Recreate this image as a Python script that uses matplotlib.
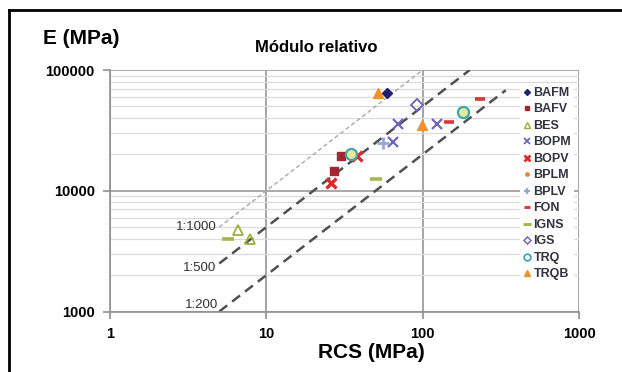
import matplotlib
matplotlib.use('Agg')
import matplotlib.pyplot as plt
from matplotlib.lines import Line2D
from matplotlib.ticker import FixedLocator, FixedFormatter, NullFormatter, LogLocator

plt.rcParams['font.family'] = ['Liberation Sans', 'DejaVu Sans']

# ---- data (RCS in MPa, E in MPa) ----
series_names = ['BAFM', 'BAFV', 'BES', 'BOPM', 'BOPV', 'BPLM', 'BPLV', 'FON', 'IGNS', 'IGS', 'TRQ', 'TRQB']

bafm_rcs = [59];            bafm_e = [64000]
bafv_rcs = [30, 27];        bafv_e = [19500, 14500]
bes_rcs = [6.6, 7.9];       bes_e = [4700, 4000]
bopm_rcs = [70, 124, 65];   bopm_e = [36000, 36000, 25500]
bopv_rcs = [38, 26];        bopv_e = [19500, 11700]
bplm_rcs = [];              bplm_e = []
bplv_rcs = [56];            bplv_e = [25000]
fon_rcs = [148, 233];       fon_e = [37000, 58000]
igns_rcs = [50, 5.7];       igns_e = [12500, 4000]
igs_rcs = [92];             igs_e = [51000]
trq_rcs = [180, 35];        trq_e = [45000, 20000]
trqb_rcs = [52, 99];        trqb_e = [65000, 35000]

ratio_values = [1000, 500, 200]
ratio_labels = ['1:1000', '1:500', '1:200']
ratio_rcs_start = [5, 5, 5]
ratio_rcs_end = [100, 200, 340]

x_ticks = [1, 10, 100, 1000]
x_tick_labels = ['1', '10', '100', '1000']
y_ticks = [1000, 10000, 100000]
y_tick_labels = ['1000', '10000', '100000']

# ---- styles ----
styles = {
    'BAFM': dict(marker='D', color='#1f2070', ms=5, mfc='#1f2070', mew=1),
    'BAFV': dict(marker='s', color='#9e2a30', ms=6, mfc='#9e2a30', mew=1),
    'BES':  dict(marker='^', color='#9cb040', ms=7, mfc='none', mew=1.3),
    'BOPM': dict(marker='x', color='#6e66b8', ms=7, mfc='none', mew=1.6),
    'BOPV': dict(marker='x', color='#e02828', ms=7, mfc='none', mew=2.4),
    'BPLM': dict(marker='o', color='#e0883a', ms=4, mfc='#e0883a', mew=1),
    'BPLV': dict(marker='+', color='#9aa4d8', ms=8, mfc='none', mew=2),
    'FON':  dict(marker='_', color='#d83838', ms=7, mfc='none', mew=2.6),
    'IGNS': dict(marker='_', color='#a2b84c', ms=9, mfc='none', mew=2.6),
    'IGS':  dict(marker='D', color='#6e60b8', ms=6, mfc='none', mew=1.3),
    'TRQ':  dict(marker='o', color='#3aa8b0', ms=8, mfc='#e6e89c', mew=1.6),
    'TRQB': dict(marker='^', color='#f0922a', ms=7, mfc='#f0922a', mew=1),
}
data = {
    'BAFM': (bafm_rcs, bafm_e), 'BAFV': (bafv_rcs, bafv_e), 'BES': (bes_rcs, bes_e),
    'BOPM': (bopm_rcs, bopm_e), 'BOPV': (bopv_rcs, bopv_e), 'BPLM': (bplm_rcs, bplm_e),
    'BPLV': (bplv_rcs, bplv_e), 'FON': (fon_rcs, fon_e), 'IGNS': (igns_rcs, igns_e),
    'IGS': (igs_rcs, igs_e), 'TRQ': (trq_rcs, trq_e), 'TRQB': (trqb_rcs, trqb_e),
}

W, H = 622, 372
fig = plt.figure(figsize=(W / 100, H / 100), dpi=100)
left, right, top, bottom = 110, 579, 70, 311.5
ax = fig.add_axes([left / W, 1 - bottom / H, (right - left) / W, (bottom - top) / H])
ax.set_xscale('log')
ax.set_yscale('log')
ax.set_xlim(1, 1000)
ax.set_ylim(1000, 100000)

# grid
ax.yaxis.set_minor_locator(LogLocator(base=10, subs=range(2, 10)))
ax.yaxis.grid(True, which='minor', color='#dadada', lw=0.9)
ax.yaxis.grid(True, which='major', color='#a8a8a8', lw=1.4)
ax.xaxis.grid(True, which='major', color='#959595', lw=1.2)
ax.xaxis.grid(False, which='minor')
ax.set_axisbelow(True)

for s in ['top', 'right']:
    ax.spines[s].set_visible(False)
for s in ['left', 'bottom']:
    ax.spines[s].set_color('#909090')
    ax.spines[s].set_linewidth(1.2)

ax.xaxis.set_major_locator(FixedLocator(x_ticks))
ax.xaxis.set_major_formatter(FixedFormatter(x_tick_labels))
ax.yaxis.set_major_locator(FixedLocator(y_ticks))
ax.yaxis.set_major_formatter(FixedFormatter(y_tick_labels))
ax.xaxis.set_minor_formatter(NullFormatter())
ax.yaxis.set_minor_formatter(NullFormatter())
ax.tick_params(which='minor', length=0)
ax.tick_params(which='major', length=5, color='#909090', width=1.2, labelsize=10.5, pad=6)
for lab in ax.get_xticklabels() + ax.get_yticklabels():
    lab.set_fontweight('bold')

# ratio lines
ratio_styles = [dict(color='#a8a8a8', lw=1.0, dashes=(3, 2)),
                dict(color='#505050', lw=1.8, dashes=(4, 2.5)),
                dict(color='#505050', lw=1.8, dashes=(4, 2.5))]
label_offsets = [(-2, 0), (-2, -3.5), (-1, 4.5)]
for r, lab, x0, x1, st, off in zip(ratio_values, ratio_labels, ratio_rcs_start, ratio_rcs_end,
                                   ratio_styles, label_offsets):
    ax.plot([x0, x1], [r * x0, r * x1], zorder=2, **st)
    ax.annotate(lab, xy=(x0, r * x0), xytext=off, textcoords='offset points',
                ha='right', va='center', fontsize=9.5, color='#333333')

# points
for name in series_names:
    xs, ys = data[name]
    st = styles[name]
    ax.plot(xs, ys, linestyle='none', marker=st['marker'], color=st['color'],
            ms=st['ms'], mfc=st['mfc'], mec=st['color'], mew=st['mew'], zorder=3)

# legend
handles = []
for name in series_names:
    st = styles[name]
    mfc = 'none' if name == 'TRQ' else st['mfc']
    handles.append(Line2D([], [], linestyle='none', marker=st['marker'], color=st['color'],
                          ms=st['ms'] * 0.6, mfc=mfc, mec=st['color'], mew=max(st['mew'] * 0.8, 1)))
leg = ax.legend(handles, series_names, loc='upper left', bbox_to_anchor=(0.875, 0.94),
                frameon=True, facecolor='white', edgecolor='none', framealpha=1,
                prop=dict(weight='bold', size=9), handlelength=0.7, handletextpad=0.15,
                labelspacing=0.36, borderpad=0.2, borderaxespad=0)
for t in leg.get_texts():
    t.set_color('#333340')

# texts
fig.text(316 / W, 1 - 48 / H, 'Módulo relativo', ha='center', va='center',
         fontsize=12, fontweight='bold')
fig.text(43 / W, 1 - 38 / H, 'E (MPa)', ha='left', va='center', fontsize=15, fontweight='bold')
fig.text(371 / W, 1 - 352 / H, 'RCS (MPa)', ha='center', va='center', fontsize=15, fontweight='bold')

# frame lines (top and left)
fig.add_artist(Line2D([9 / W, 1], [1 - 10 / H, 1 - 10 / H], transform=fig.transFigure,
                      color='black', lw=2))
fig.add_artist(Line2D([9 / W, 9 / W], [0, 1 - 10 / H], transform=fig.transFigure,
                      color='black', lw=2))

fig.savefig('out.png', dpi=100)
